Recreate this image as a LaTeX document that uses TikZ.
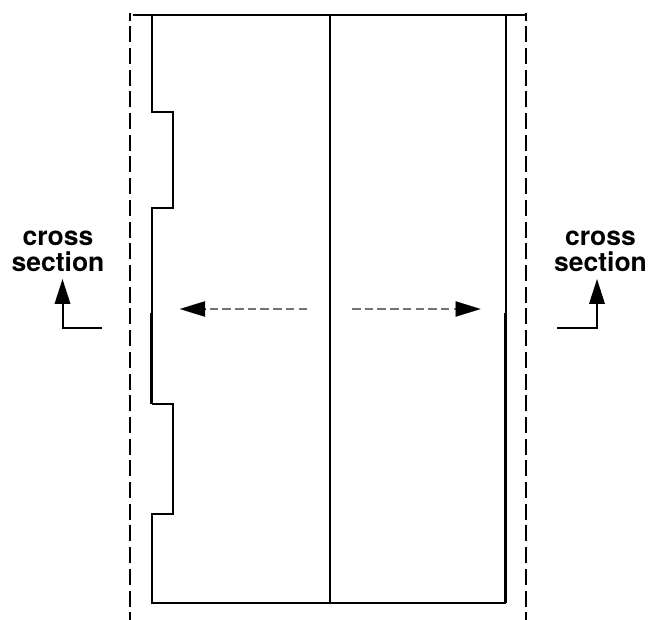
\documentclass[tikz,border=0pt]{standalone}
\usepackage{fontspec}
\setmainfont{TeX Gyre Heros}
\usetikzlibrary{arrows.meta}
\tikzset{
  wall/.style={line width=2pt,black,line join=miter},
  wallthick/.style={line width=2.4pt,black},
  boundary/.style={line width=2pt,black,dash pattern=on 16pt off 5.7pt,dash phase=8.7pt},
  flow/.style={line width=1.4pt,black!55,dash pattern=on 8.5pt off 4.2pt},
  head/.style={line width=0.1pt,-{Triangle[length=25pt,width=15.5pt]}},
  leader/.style={line width=2pt,black,line join=miter,-{Triangle[length=25pt,width=15.5pt]}},
  lbl/.style={font=\fontsize{26.5}{26}\selectfont\bfseries,align=center,inner sep=0pt,text=black}
}
\begin{document}
\begin{tikzpicture}[x=1pt,y=-1pt]
\useasboundingbox (0,0) rectangle (648,620);
% corners
\coordinate (tl) at (151.5,15);
\coordinate (tm) at (329.5,15);
\coordinate (tr) at (505.5,15);
\coordinate (bl) at (151.5,603);
\coordinate (bm) at (329.5,603);
\coordinate (br) at (505.5,603);
\coordinate (lmid) at (151.5,313);
\coordinate (rmid) at (505.5,313);
% stepped left wall, upper part
\draw[wall] (tl) -- (151.5,112.5) -- (172.5,112.5) -- (172.5,208) -- (151.5,208) -- (lmid);
% stepped left wall, lower part
\draw[wallthick] (lmid) -- (151.5,403.5);
\draw[wall] (151.5,403.5) -- (172.5,403.5) -- (172.5,513.5) -- (151.5,513.5) -- (bl) -- (br);
% right wall
\draw[wall] (tr) -- (rmid);
\draw[wallthick] (rmid) -- (br);
% middle and top
\draw[wall] (tm) -- (bm);
\draw[wall] (133,15) -- (526,15);
% dashed boundaries
\coordinate (dl1) at (130,13.3);
\coordinate (dl2) at (130,620);
\coordinate (dr1) at (526,13.3);
\coordinate (dr2) at (526,620);
\draw[boundary] (dl1) -- (dl2);
\draw[boundary] (dr1) -- (dr2);
% expansion arrows
\coordinate (la) at (307,309);
\coordinate (lb) at (204.5,309);
\coordinate (lc) at (180,309);
\coordinate (ra) at (352,309);
\coordinate (rb) at (455.5,309);
\coordinate (rc) at (480.5,309);
\draw[flow] (la) -- (lb);
\draw[head] (lb) -- (lc);
\draw[flow] (ra) -- (rb);
\draw[head] (rb) -- (rc);
% labels
\node[lbl] (cl) at (58,251.5) {cross\\section};
\node[lbl] (cr) at (600.5,251.5) {cross\\section};
% leaders
\coordinate (l1) at (102,328);
\coordinate (l2) at (62.5,328);
\coordinate (l3) at (62.5,279);
\coordinate (r1) at (557,328);
\coordinate (r2) at (597,328);
\coordinate (r3) at (597,279);
\draw[leader] (l1) -- (l2) -- (l3);
\draw[leader] (r1) -- (r2) -- (r3);
\end{tikzpicture}
\end{document}
